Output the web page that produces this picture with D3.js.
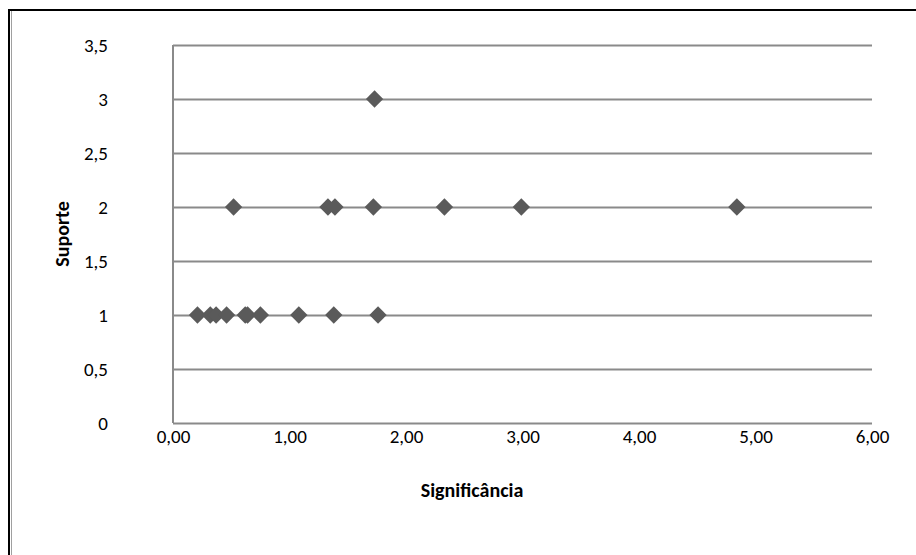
<!DOCTYPE html>
<html>
<head>
<meta charset="utf-8">
<script src="https://cdn.jsdelivr.net/npm/d3@7"></script>
<style>
  html, body { margin: 0; padding: 0; background: #fff; }
  svg { display: block; }
  text { font-family: Carlito, Calibri, Lato, "Open Sans", sans-serif; fill: #000; }
</style>
</head>
<body>
<svg id="chart" width="916" height="555"></svg>
<script>
// Significância (x) and Suporte (y) of each rule
const significancia = [0.21, 0.32, 0.37, 0.46, 0.62, 0.64, 0.75, 1.08, 1.38, 1.76,
                       0.52, 1.33, 1.39, 1.72, 2.33, 2.99, 4.84,
                       1.73];
const suporte       = [1, 1, 1, 1, 1, 1, 1, 1, 1, 1,
                       2, 2, 2, 2, 2, 2, 2,
                       3];
const xTicks = [0, 1, 2, 3, 4, 5, 6];
const yTicks = [0, 0.5, 1, 1.5, 2, 2.5, 3, 3.5];
const xTitle = "Significância";
const yTitle = "Suporte";

const svg = d3.select("#chart");
const plot = { left: 173, right: 872, top: 45, bottom: 423 };
const fontSize = 19;
const titleSize = 20;

// chart frame (left and top edges visible)
svg.append("line").attr("x1", 9).attr("x2", 9).attr("y1", 9).attr("y2", 555)
  .attr("stroke", "#000").attr("stroke-width", 2);
svg.append("line").attr("x1", 8).attr("x2", 916).attr("y1", 10).attr("y2", 10)
  .attr("stroke", "#000").attr("stroke-width", 2);
svg.append("line").attr("x1", 11.5).attr("x2", 11.5).attr("y1", 11).attr("y2", 555)
  .attr("stroke", "#a0a0a0").attr("stroke-width", 1);

const x = d3.scaleLinear().domain([0, 6]).range([plot.left, plot.right]);
const y = d3.scaleLinear().domain([0, 3.5]).range([plot.bottom, plot.top]);

const fmtX = v => d3.format(".2f")(v).replace(".", ",");
const fmtY = v => String(v).replace(".", ",");

// horizontal gridlines + y tick labels
const yAxis = d3.axisLeft(y).tickValues(yTicks).tickFormat(fmtY)
  .tickSize(-(plot.right - plot.left)).tickPadding(65);
const gy = svg.append("g").attr("transform", `translate(${plot.left},0)`).call(yAxis);
gy.select(".domain").remove();
gy.selectAll(".tick line").attr("stroke", "#8a8a8a").attr("stroke-width", 2);
gy.selectAll(".tick text").attr("font-size", fontSize).attr("fill", "#000");

// vertical axis line
svg.append("line").attr("x1", plot.left).attr("x2", plot.left)
  .attr("y1", plot.top).attr("y2", plot.bottom)
  .attr("stroke", "#8a8a8a").attr("stroke-width", 2);

// x tick labels
const xAxis = d3.axisBottom(x).tickValues(xTicks).tickFormat(fmtX)
  .tickSize(0).tickPadding(7);
const gx = svg.append("g").attr("transform", `translate(0,${plot.bottom})`).call(xAxis);
gx.select(".domain").remove();
gx.selectAll(".tick text").attr("font-size", fontSize).attr("fill", "#000");

// axis titles
svg.append("text").attr("x", 472).attr("y", 497)
  .attr("text-anchor", "middle").attr("font-size", titleSize).attr("font-weight", "bold")
  .text(xTitle);
svg.append("text")
  .attr("transform", `translate(69,${(plot.top + plot.bottom) / 2}) rotate(-90)`)
  .attr("text-anchor", "middle").attr("font-size", titleSize).attr("font-weight", "bold")
  .text(yTitle);

// diamond markers
const diamond = d3.symbol().type(d3.symbolSquare).size(150);
svg.append("g").selectAll("path")
  .data(significancia.map((s, i) => [s, suporte[i]]))
  .join("path")
  .attr("d", diamond)
  .attr("transform", d => `translate(${x(d[0])},${y(d[1])}) rotate(45)`)
  .attr("fill", "#5a5a5a");
</script>
</body>
</html>
